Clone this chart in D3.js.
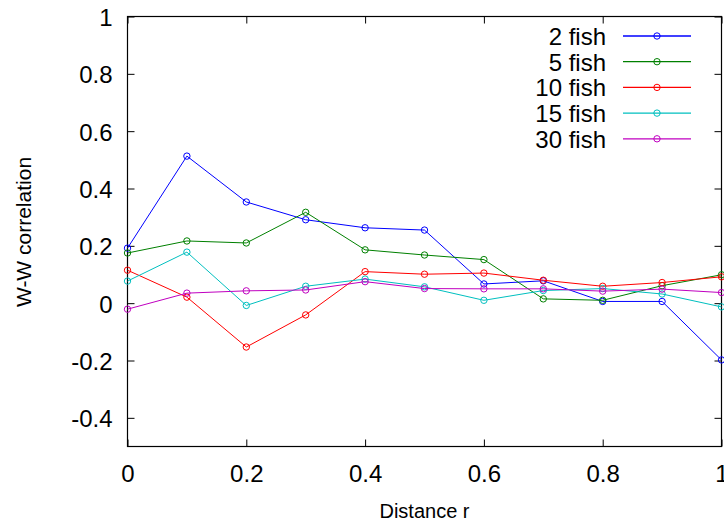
<!DOCTYPE html>
<html>
<head>
<meta charset="utf-8">
<script src="https://cdn.jsdelivr.net/npm/d3@7"></script>
<style>
  html, body { margin: 0; padding: 0; background: #fff; }
  svg { display: block; font-family: "Liberation Sans", Arial, sans-serif; }
</style>
</head>
<body>
<svg id="chart" width="724" height="527"></svg>
<script>
const distances = [0, 0.1, 0.2, 0.3, 0.4, 0.5, 0.6, 0.7, 0.8, 0.9, 1.0];
const seriesNames = ["2 fish", "5 fish", "10 fish", "15 fish", "30 fish"];
const fish2  = [0.192, 0.513, 0.353, 0.291, 0.263, 0.255, 0.067, 0.078, 0.006, 0.006, -0.198];
const fish5  = [0.175, 0.217, 0.210, 0.317, 0.186, 0.168, 0.152, 0.015, 0.010, 0.061, 0.099];
const fish10 = [0.115, 0.021, -0.153, -0.041, 0.110, 0.101, 0.105, 0.080, 0.059, 0.072, 0.092];
const fish15 = [0.077, 0.178, -0.008, 0.059, 0.084, 0.057, 0.010, 0.044, 0.051, 0.032, -0.013];
const fish30 = [-0.021, 0.035, 0.043, 0.046, 0.075, 0.051, 0.050, 0.050, 0.042, 0.049, 0.037];
const seriesValues = [fish2, fish5, fish10, fish15, fish30];
const seriesColors = ["#0000ff", "#008000", "#ff0000", "#00bfbf", "#c000c0"];
const xTicks = [0, 0.2, 0.4, 0.6, 0.8, 1];
const xTickLabels = ["0", "0.2", "0.4", "0.6", "0.8", "1"];
const yTicks = [-0.4, -0.2, 0, 0.2, 0.4, 0.6, 0.8, 1];
const yTickLabels = ["-0.4", "-0.2", "0", "0.2", "0.4", "0.6", "0.8", "1"];
const xTitle = "Distance r";
const yTitle = "W-W correlation";

const L = 127.5, R = 721.5, T = 16.5, B = 446.5;
const svg = d3.select("#chart");
const x = d3.scaleLinear().domain([0, 1]).range([L, R]);
const y = d3.scaleLinear().domain([-0.5, 1]).range([B, T]);
const tickLen = 7;

const fmtX = (d) => xTickLabels[xTicks.indexOf(d)];
const fmtY = (d) => yTickLabels[yTicks.indexOf(d)];

const gB = svg.append("g").attr("transform", `translate(0,${B})`)
  .call(d3.axisBottom(x).tickValues(xTicks).tickFormat(fmtX).tickSizeInner(-tickLen).tickSizeOuter(0).tickPadding(22));
const gT = svg.append("g").attr("transform", `translate(0,${T})`)
  .call(d3.axisTop(x).tickValues(xTicks).tickFormat("").tickSizeInner(-tickLen).tickSizeOuter(0));
const gL = svg.append("g").attr("transform", `translate(${L},0)`)
  .call(d3.axisLeft(y).tickValues(yTicks).tickFormat(fmtY).tickSizeInner(-tickLen).tickSizeOuter(0).tickPadding(15));
const gR = svg.append("g").attr("transform", `translate(${R},0)`)
  .call(d3.axisRight(y).tickValues(yTicks).tickFormat("").tickSizeInner(-tickLen).tickSizeOuter(0));

[gB, gT, gL, gR].forEach(g => {
  g.select(".domain").remove();
  g.selectAll(".tick line").attr("stroke", "#000").attr("stroke-width", 1);
  g.selectAll(".tick text").attr("fill", "#000").style("font-size", "24px")
    .style("font-family", '"Liberation Sans", Arial, sans-serif');
});
gB.selectAll(".tick text").attr("dy", "0.71em").attr("y", 18);
gL.selectAll(".tick text").attr("dy", "0.38em");

svg.append("rect").attr("x", L).attr("y", T).attr("width", R - L).attr("height", B - T)
  .attr("fill", "none").attr("stroke", "#000").attr("stroke-width", 1.2);

const line = d3.line().x((d, i) => x(distances[i])).y(d => y(d));
const plot = svg.append("g");
seriesValues.forEach((vals, si) => {
  plot.append("path").datum(vals).attr("d", line)
    .attr("fill", "none").attr("stroke", seriesColors[si]).attr("stroke-width", 1);
  plot.selectAll(null).data(vals).enter().append("circle")
    .attr("cx", (d, i) => x(distances[i])).attr("cy", d => y(d)).attr("r", 3.2)
    .attr("fill", "none").attr("stroke", seriesColors[si]).attr("stroke-width", 1);
});

const legY0 = 36, legDy = 25.7;
const lg = svg.append("g");
seriesNames.forEach((name, i) => {
  const ly = legY0 + i * legDy;
  lg.append("text").attr("x", 606).attr("y", ly + 9).attr("text-anchor", "end")
    .style("font-size", "24px").attr("fill", "#000").text(name);
  lg.append("line").attr("x1", 623).attr("x2", 691).attr("y1", ly).attr("y2", ly)
    .attr("stroke", seriesColors[i]).attr("stroke-width", 1.3);
  lg.append("circle").attr("cx", 657).attr("cy", ly).attr("r", 3.2)
    .attr("fill", "none").attr("stroke", seriesColors[i]).attr("stroke-width", 1);
});

svg.append("text").attr("x", (L + R) / 2).attr("y", 518).attr("text-anchor", "middle")
  .style("font-size", "20px").attr("fill", "#000").text(xTitle);
svg.append("text").attr("transform", `translate(31,232) rotate(-90)`).attr("text-anchor", "middle")
  .style("font-size", "21px").attr("fill", "#000").text(yTitle);
</script>
</body>
</html>
